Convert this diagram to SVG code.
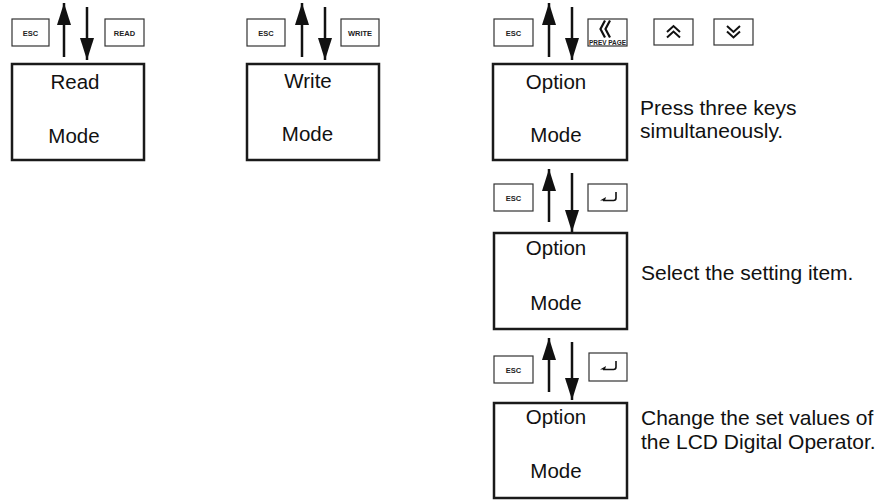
<svg xmlns="http://www.w3.org/2000/svg" width="883" height="501" viewBox="0 0 883 501">
<style>
.box{fill:#fff;stroke:#1a1a1a;stroke-width:2.5}
.key{fill:#fff;stroke:#333;stroke-width:1.2}
.big{font-family:"Liberation Sans",Arial,sans-serif;font-size:20.5px;fill:#111;text-anchor:middle}
.desc{font-family:"Liberation Sans",Arial,sans-serif;font-size:21px;fill:#111}
.kl{font-family:"Liberation Sans",Arial,sans-serif;font-size:7.5px;font-weight:bold;fill:#222;text-anchor:middle}
.arr{stroke:#111;stroke-width:2.5;fill:none;marker-end:url(#ah)}
.sym{fill:none;stroke:#111;stroke-width:2}
.ent{fill:none;stroke:#111;stroke-width:1.6;stroke-linejoin:round}
</style>
<defs>
<marker id="ah" viewBox="0 0 22 14" refX="22" refY="7" markerWidth="22" markerHeight="14" markerUnits="userSpaceOnUse" orient="auto">
<path d="M0,0 L22,7 L0,14 z" fill="#111"/>
</marker>
</defs>
<rect width="883" height="501" fill="#fff"/>

<g id="read-mode">
<rect class="box" x="12" y="64" width="132" height="96"/>
<text class="big" x="75" y="89">Read</text>
<text class="big" x="74" y="143">Mode</text>
</g>
<g id="read-esc-key">
<rect class="key" x="12" y="19" width="37" height="27"/>
<text class="kl" x="30.5" y="35.5">ESC</text>
</g>
<g id="read-key">
<rect class="key" x="105" y="19" width="39" height="27"/>
<text class="kl" x="124.5" y="35.5">READ</text>
</g>

<g id="write-mode">
<rect class="box" x="247" y="64" width="132" height="96"/>
<text class="big" x="308" y="88">Write</text>
<text class="big" x="307.5" y="141">Mode</text>
</g>
<g id="write-esc-key">
<rect class="key" x="247" y="19" width="38" height="27"/>
<text class="kl" x="266" y="35.5">ESC</text>
</g>
<g id="write-key">
<rect class="key" x="341" y="19" width="38" height="27"/>
<text class="kl" x="360" y="35.5">WRITE</text>
</g>

<g id="option-mode-1">
<rect class="box" x="493" y="64" width="134" height="96"/>
<text class="big" x="556" y="89">Option</text>
<text class="big" x="556" y="142">Mode</text>
</g>
<g id="option-esc-key-1">
<rect class="key" x="494" y="19" width="39" height="27"/>
<text class="kl" x="513.5" y="35.5">ESC</text>
</g>
<g id="prev-page-key">
<rect class="key" x="588" y="19" width="39" height="27"/>
<path d="M605,20.5 L600.5,29 L605,37.5 M610,20.5 L605.5,29 L610,37.5" fill="none" stroke="#111" stroke-width="2.2"/>
<text class="kl" x="607.5" y="45" font-size="7.5" fill="#111" textLength="37" lengthAdjust="spacingAndGlyphs">PREV PAGE</text>
</g>
<g id="up-key">
<rect class="key" x="654" y="19" width="39" height="26"/>
<path d="M667,32 L673.5,26 L680,32 M667,37.5 L673.5,31.5 L680,37.5" class="sym"/>
</g>
<g id="down-key">
<rect class="key" x="714" y="19" width="39" height="26"/>
<path d="M727,26 L733.5,32 L740,26 M727,31.5 L733.5,37.5 L740,31.5" class="sym"/>
</g>
<g id="note-1">
<text class="desc" x="640" y="115">Press three keys</text>
<text class="desc" x="640" y="138">simultaneously.</text>
</g>

<g id="option-esc-key-2">
<rect class="key" x="494" y="184" width="39" height="27"/>
<text class="kl" x="513.5" y="200.5">ESC</text>
</g>
<g id="enter-key-2">
<rect class="key" x="588" y="184" width="39" height="27"/>
<path d="M616,192 L616,198 Q616,200.5 613.5,200.5 L603,200.5" class="ent"/>
<path d="M600,200.5 L606,197 L605,200.5 z" fill="#111"/>
</g>

<g id="option-mode-2">
<rect class="box" x="494" y="233" width="133" height="96"/>
<text class="big" x="556" y="255">Option</text>
<text class="big" x="556" y="310">Mode</text>
</g>
<g id="note-2">
<text class="desc" x="641" y="280">Select the setting item.</text>
</g>

<g id="option-esc-key-3">
<rect class="key" x="494" y="356" width="39" height="27"/>
<text class="kl" x="513.5" y="372.5">ESC</text>
</g>
<g id="enter-key-3">
<rect class="key" x="589" y="353" width="38" height="28"/>
<path d="M616,361 L616,367 Q616,369.5 613.5,369.5 L603,369.5" class="ent"/>
<path d="M600,369.5 L606,366 L605,369.5 z" fill="#111"/>
</g>

<g id="option-mode-3">
<rect class="box" x="494" y="403" width="133" height="95"/>
<text class="big" x="556" y="424">Option</text>
<text class="big" x="556" y="478">Mode</text>
</g>
<g id="note-3">
<text class="desc" x="641" y="425">Change the set values of</text>
<text class="desc" x="641" y="449">the LCD Digital Operator.</text>
</g>

<g id="connectors">
<line class="arr" x1="64" y1="57" x2="64" y2="3"/>
<line class="arr" x1="87" y1="7" x2="87" y2="60"/>
<line class="arr" x1="302" y1="57" x2="302" y2="3"/>
<line class="arr" x1="325" y1="7" x2="325" y2="60"/>
<line class="arr" x1="549" y1="57" x2="549" y2="3"/>
<line class="arr" x1="572" y1="7" x2="572" y2="60"/>
<line class="arr" x1="549" y1="222" x2="549" y2="169"/>
<line class="arr" x1="572" y1="173" x2="572" y2="232"/>
<line class="arr" x1="549" y1="392" x2="549" y2="338"/>
<line class="arr" x1="572" y1="342" x2="572" y2="400"/>
</g>
</svg>
